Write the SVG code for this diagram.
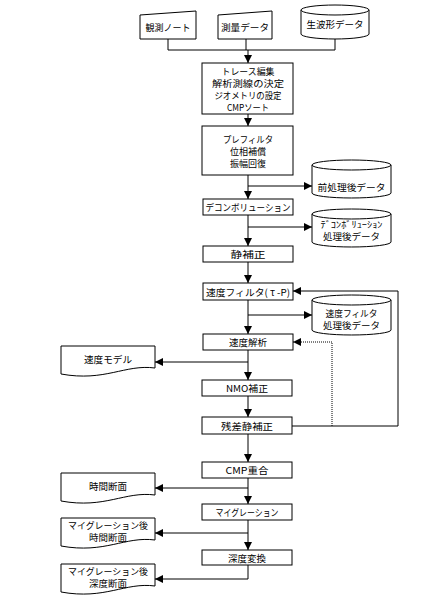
<svg xmlns="http://www.w3.org/2000/svg" width="422" height="613" viewBox="0 0 422 613">
<style>
.s{fill:#fff;stroke:#000;stroke-width:1}
.t{font-family:"Noto Sans CJK JP","Noto Sans",sans-serif;font-size:9.5px;fill:#000;text-anchor:middle;dominant-baseline:central}
.m{font-size:9px}
.c{fill:none;stroke:#000;stroke-width:1}
.d{fill:none;stroke:#000;stroke-width:1;stroke-dasharray:1,1}
</style>
<defs>
<marker id="a" markerUnits="userSpaceOnUse" markerWidth="8" markerHeight="8" refX="8" refY="4" orient="auto">
<path d="M0,0 L8,4 L0,8 z" fill="#000"/>
</marker>
</defs>
<rect width="422" height="613" fill="#fff"/>
<g id="connectors">
<path class="c" d="M168,39 V50 H335 M246,39 V50 M335,39 V50"/>
<path class="c" d="M248,50 V63" marker-end="url(#a)"/>
<path class="c" d="M248,114 V126" marker-end="url(#a)"/>
<path class="c" d="M248,175 V199" marker-end="url(#a)"/>
<path class="c" d="M248,186 H312" marker-end="url(#a)"/>
<path class="c" d="M248,215 V246" marker-end="url(#a)"/>
<path class="c" d="M248,227 H312" marker-end="url(#a)"/>
<path class="c" d="M248,262 V283" marker-end="url(#a)"/>
<path class="c" d="M248,300 V334" marker-end="url(#a)"/>
<path class="c" d="M248,315 H312" marker-end="url(#a)"/>
<path class="c" d="M248,350 V380" marker-end="url(#a)"/>
<path class="c" d="M248,362 H155" marker-end="url(#a)"/>
<path class="c" d="M248,396 V417" marker-end="url(#a)"/>
<path class="c" d="M248,434 V462" marker-end="url(#a)"/>
<path class="c" d="M292,426 H398 V291 H293" marker-end="url(#a)"/>
<path class="d" d="M332,426 V342 H293" marker-end="url(#a)"/>
<path class="c" d="M248,478 V504" marker-end="url(#a)"/>
<path class="c" d="M248,488 H155" marker-end="url(#a)"/>
<path class="c" d="M248,520 V550" marker-end="url(#a)"/>
<path class="c" d="M248,533 H155" marker-end="url(#a)"/>
<path class="c" d="M248,565 V579 H155" marker-end="url(#a)"/>
</g>
<g id="n_kansoku">
<path class="s" d="M140,15 L196,11 V39 H140 Z"/>
<text class="t" x="168" y="27" textLength="45" lengthAdjust="spacingAndGlyphs">観測ノート</text>
</g>
<g id="n_sokuryo">
<path class="s" d="M218,15 L272,11 V39 H218 Z"/>
<text class="t" x="245" y="27" textLength="48" lengthAdjust="spacingAndGlyphs">測量データ</text>
</g>
<g id="n_nama">
<path class="s" d="M301,10 V34 A34,5 0 0 0 369,34 V10"/>
<ellipse class="s" cx="335" cy="10" rx="34" ry="5"/>
<text class="t" x="335" y="24" textLength="57" lengthAdjust="spacingAndGlyphs">生波形データ</text>
</g>
<g id="n_trace">
<rect class="s" x="202" y="63" width="91" height="51"/>
<text class="t m"><tspan x="248" y="71" textLength="53" lengthAdjust="spacingAndGlyphs">トレース編集</tspan><tspan x="248" y="83" textLength="72" lengthAdjust="spacingAndGlyphs">解析測線の決定</tspan><tspan x="248" y="95" textLength="67" lengthAdjust="spacingAndGlyphs">ジオメトリの設定</tspan><tspan x="248" y="107" textLength="42" lengthAdjust="spacingAndGlyphs">CMPソート</tspan></text>
</g>
<g id="n_pre">
<rect class="s" x="202" y="126" width="91" height="49"/>
<text class="t m"><tspan x="248" y="139" textLength="50" lengthAdjust="spacingAndGlyphs">プレフィルタ</tspan><tspan x="248" y="151" textLength="36" lengthAdjust="spacingAndGlyphs">位相補償</tspan><tspan x="248" y="163" textLength="36" lengthAdjust="spacingAndGlyphs">振幅回復</tspan></text>
</g>
<g id="n_c1">
<path class="s" d="M312,165 V193 A39.5,5 0 0 0 391,193 V165"/>
<ellipse class="s" cx="351.5" cy="165" rx="39.5" ry="5"/>
<text class="t" x="351.5" y="187" textLength="68" lengthAdjust="spacingAndGlyphs">前処理後データ</text>
</g>
<g id="n_decon">
<rect class="s" x="203" y="199" width="90" height="16"/>
<text class="t" x="248" y="207" textLength="85" lengthAdjust="spacingAndGlyphs">デコンボリューション</text>
</g>
<g id="n_c2">
<path class="s" d="M312,214 V242 A39.5,5 0 0 0 391,242 V214"/>
<ellipse class="s" cx="351.5" cy="214" rx="39.5" ry="5"/>
<text class="t m"><tspan x="351.5" y="223.5" textLength="62" lengthAdjust="spacingAndGlyphs">ﾃﾞｺﾝﾎﾞﾘｭｰｼｮﾝ</tspan><tspan x="351.5" y="236" textLength="57" lengthAdjust="spacingAndGlyphs">処理後データ</tspan></text>
</g>
<g id="n_static">
<rect class="s" x="203" y="246" width="90" height="16"/>
<text class="t" x="248" y="254" textLength="35" lengthAdjust="spacingAndGlyphs">静補正</text>
</g>
<g id="n_vfilter">
<rect class="s" x="203" y="283" width="90" height="17"/>
<text class="t" x="248" y="291.5" textLength="84" lengthAdjust="spacingAndGlyphs">速度フィルタ( τ -P)</text>
</g>
<g id="n_c3">
<path class="s" d="M312,300 V330 A39.5,5 0 0 0 391,330 V300"/>
<ellipse class="s" cx="351.5" cy="300" rx="39.5" ry="5"/>
<text class="t m"><tspan x="351.5" y="312.5" textLength="52" lengthAdjust="spacingAndGlyphs">速度フィルタ</tspan><tspan x="351.5" y="325" textLength="57" lengthAdjust="spacingAndGlyphs">処理後データ</tspan></text>
</g>
<g id="n_vana">
<rect class="s" x="203" y="334" width="90" height="16"/>
<text class="t" x="248" y="342" textLength="38" lengthAdjust="spacingAndGlyphs">速度解析</text>
</g>
<g id="n_vmodel">
<path class="s" d="M61,346 H155 V368 C125,364 105,382 61,374 Z"/>
<text class="t" x="108" y="359" textLength="48" lengthAdjust="spacingAndGlyphs">速度モデル</text>
</g>
<g id="n_nmo">
<rect class="s" x="202" y="380" width="90" height="16"/>
<text class="t" x="247" y="388" textLength="42" lengthAdjust="spacingAndGlyphs">NMO補正</text>
</g>
<g id="n_resid">
<rect class="s" x="202" y="417" width="90" height="17"/>
<text class="t" x="247" y="425.5" textLength="52" lengthAdjust="spacingAndGlyphs">残差静補正</text>
</g>
<g id="n_cmp">
<rect class="s" x="202" y="462" width="90" height="16"/>
<text class="t" x="247" y="470" textLength="43" lengthAdjust="spacingAndGlyphs">CMP重合</text>
</g>
<g id="n_time">
<path class="s" d="M61,473 H155 V495 C125,491 105,509 61,501 Z"/>
<text class="t" x="108" y="486" textLength="38" lengthAdjust="spacingAndGlyphs">時間断面</text>
</g>
<g id="n_mig">
<rect class="s" x="202" y="504" width="90" height="16"/>
<text class="t" x="247" y="512" textLength="63" lengthAdjust="spacingAndGlyphs">マイグレーション</text>
</g>
<g id="n_migtime">
<path class="s" d="M61,518 H155 V540 C125,536 105,554 61,546 Z"/>
<text class="t m"><tspan x="108" y="524.5" textLength="80" lengthAdjust="spacingAndGlyphs">マイグレーション後</tspan><tspan x="108" y="537" textLength="38" lengthAdjust="spacingAndGlyphs">時間断面</tspan></text>
</g>
<g id="n_depth">
<rect class="s" x="202" y="550" width="90" height="15"/>
<text class="t" x="247" y="557.5" textLength="38" lengthAdjust="spacingAndGlyphs">深度変換</text>
</g>
<g id="n_migdepth">
<path class="s" d="M61,564 H155 V586 C125,582 105,600 61,592 Z"/>
<text class="t m"><tspan x="108" y="570.5" textLength="80" lengthAdjust="spacingAndGlyphs">マイグレーション後</tspan><tspan x="108" y="583" textLength="38" lengthAdjust="spacingAndGlyphs">深度断面</tspan></text>
</g>
</svg>
